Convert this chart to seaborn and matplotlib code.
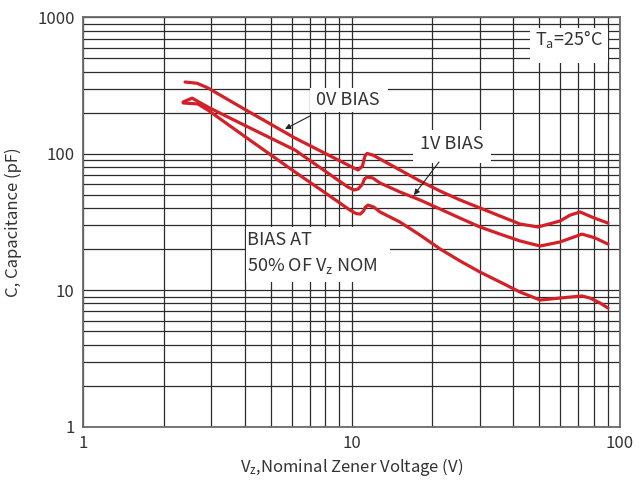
import numpy as np
import pandas as pd
import matplotlib
matplotlib.use("Agg")
import matplotlib.pyplot as plt
from matplotlib.patches import Rectangle
import seaborn as sns

# ---- data (log-log) ----
v_0v = [2.40, 2.66, 2.92, 4.0, 6.16, 8.0, 10.04, 10.58, 10.99, 11.12, 11.26, 11.44, 12.0, 12.77,
        15.16, 17.99, 21.36, 25.36, 30.1, 35.74, 42.4, 49.5, 59.8, 65.1, 71.0, 80.0, 90.2]
c_0v = [336, 329, 304, 212, 130.5, 100.5, 80.0, 76.1, 81.4, 90.1, 98.0, 100.5, 98.0, 91.6,
        76.1, 63.2, 53.4, 45.9, 40.1, 35.0, 30.6, 29.1, 32.2, 35.5, 37.5, 33.9, 31.1]

v_1v = [2.36, 2.55, 2.92, 4.0, 6.16, 8.0, 9.70, 10.21, 10.58, 10.99, 11.17, 11.44, 12.0, 12.77,
        15.16, 17.99, 21.36, 25.36, 30.1, 35.74, 42.4, 50.4, 59.8, 72.2, 80.7, 90.2]
c_1v = [240, 256, 220, 161.8, 106.6, 74.4, 57.1, 54.3, 55.2, 60.1, 65.4, 67.6, 66.5, 61.1,
        52.5, 45.9, 39.4, 33.8, 29.1, 25.8, 23.0, 21.1, 22.6, 25.8, 24.2, 21.8]

v_50 = [2.36, 2.68, 2.92, 4.0, 6.16, 8.0, 9.87, 10.40, 10.78, 11.08, 11.26, 11.53, 12.11, 12.77,
        15.16, 17.99, 21.36, 25.36, 30.1, 35.74, 42.4, 50.4, 59.8, 72.2, 77.3, 84.3, 90.2]
c_50 = [236, 232, 209, 134.2, 73.6, 51.6, 38.7, 36.5, 36.2, 38.1, 40.7, 42.1, 40.7, 37.5,
        31.6, 25.4, 20.1, 16.4, 13.6, 11.5, 9.71, 8.48, 8.77, 9.08, 8.77, 8.07, 7.41]

curve_names = ["0V BIAS", "1V BIAS", "50% BIAS"]
x_ticks = [1, 10, 100]
x_ticklabels = ["1", "10", "100"]
y_ticks = [1, 10, 100, 1000]
y_ticklabels = ["1", "10", "100", "1000"]

df = pd.concat([
    pd.DataFrame({"V": v_0v, "C": c_0v, "curve": curve_names[0]}),
    pd.DataFrame({"V": v_1v, "C": c_1v, "curve": curve_names[1]}),
    pd.DataFrame({"V": v_50, "C": c_50, "curve": curve_names[2]}),
], ignore_index=True)

# ---- styling ----
sns.set_theme(style="white")
plt.rcParams["font.family"] = ["Noto Sans CJK JP", "DejaVu Sans"]
plt.rcParams["mathtext.default"] = "regular"

RED = "#D42027"
GRID = "#2b2b2b"
TXT = "#333333"

fig = plt.figure(figsize=(6.4, 4.83), dpi=100)
ax = fig.add_axes([83 / 640, 1 - 426.7 / 483, (620 - 83) / 640, (426.7 - 17.4) / 483])

ax.set_xscale("log")
ax.set_yscale("log")
ax.set_xlim(1, 100)
ax.set_ylim(1, 1000)

sns.lineplot(data=df, x="V", y="C", hue="curve", units="curve", estimator=None, sort=False,
             palette=[RED, RED, RED], linewidth=2.3, legend=False, ax=ax, zorder=5)
for ln in ax.get_lines():
    ln.set_solid_joinstyle("round")
    ln.set_solid_capstyle("round")

# grid: major + minor
ax.grid(True, which="both", color=GRID, linewidth=0.9, zorder=1)
ax.set_axisbelow(True)
ax.set_xticks(x_ticks)
ax.set_xticklabels(x_ticklabels)
ax.set_yticks(y_ticks)
ax.set_yticklabels(y_ticklabels)
ax.tick_params(axis="both", which="both", length=0, labelsize=12, colors=TXT)
ax.tick_params(axis="x", pad=6)
ax.tick_params(axis="y", pad=6)
for s in ax.spines.values():
    s.set_color("#6a6a6a")
    s.set_linewidth(1.3)

ax.set_xlabel(r"V$_{z}$,Nominal Zener Voltage (V)", fontsize=12, color=TXT, labelpad=3)
ax.set_ylabel("C, Capacitance (pF)", fontsize=12, color=TXT, labelpad=11)


def fx(px):
    return (px - 83) / 537


def fy(py):
    return (426.7 - py) / 409.3


def box(x0, y0, x1, y1):
    ax.add_patch(Rectangle((fx(x0), fy(y1)), fx(x1) - fx(x0), fy(y0) - fy(y1),
                           transform=ax.transAxes, facecolor="white", edgecolor="none", zorder=3))


# annotation boxes (hide grid behind text)
box(530, 28, 608, 63)
box(310, 88, 388, 112)
box(413, 130, 491, 163)
box(246, 227, 390, 282)

FS = 13
ax.text(fx(569), fy(39), r"T$_{a}$=25°C", transform=ax.transAxes, ha="center", va="center",
        fontsize=FS, color=TXT, zorder=4)
ax.text(fx(348), fy(100), "0V BIAS", transform=ax.transAxes, ha="center", va="center",
        fontsize=FS, color=TXT, zorder=4)
ax.text(fx(452), fy(144), "1V BIAS", transform=ax.transAxes, ha="center", va="center",
        fontsize=FS, color=TXT, zorder=4)
ax.text(fx(247), fy(240), "BIAS AT", transform=ax.transAxes, ha="left", va="center",
        fontsize=FS, color=TXT, zorder=4)
ax.text(fx(247), fy(266), r"50% OF V$_{z}$ NOM", transform=ax.transAxes, ha="left", va="center",
        fontsize=FS, color=TXT, zorder=4)

arrow = dict(arrowstyle="-|>", color="#222222", lw=0.8, mutation_scale=8, shrinkA=0, shrinkB=0)
ax.annotate("", xy=(fx(285), fy(129)), xytext=(fx(310), fy(116)), xycoords="axes fraction",
            textcoords="axes fraction", arrowprops=arrow, zorder=6)
ax.annotate("", xy=(fx(414), fy(195)), xytext=(fx(439), fy(162)), xycoords="axes fraction",
            textcoords="axes fraction", arrowprops=arrow, zorder=6)

fig.savefig("out.png", dpi=100)
